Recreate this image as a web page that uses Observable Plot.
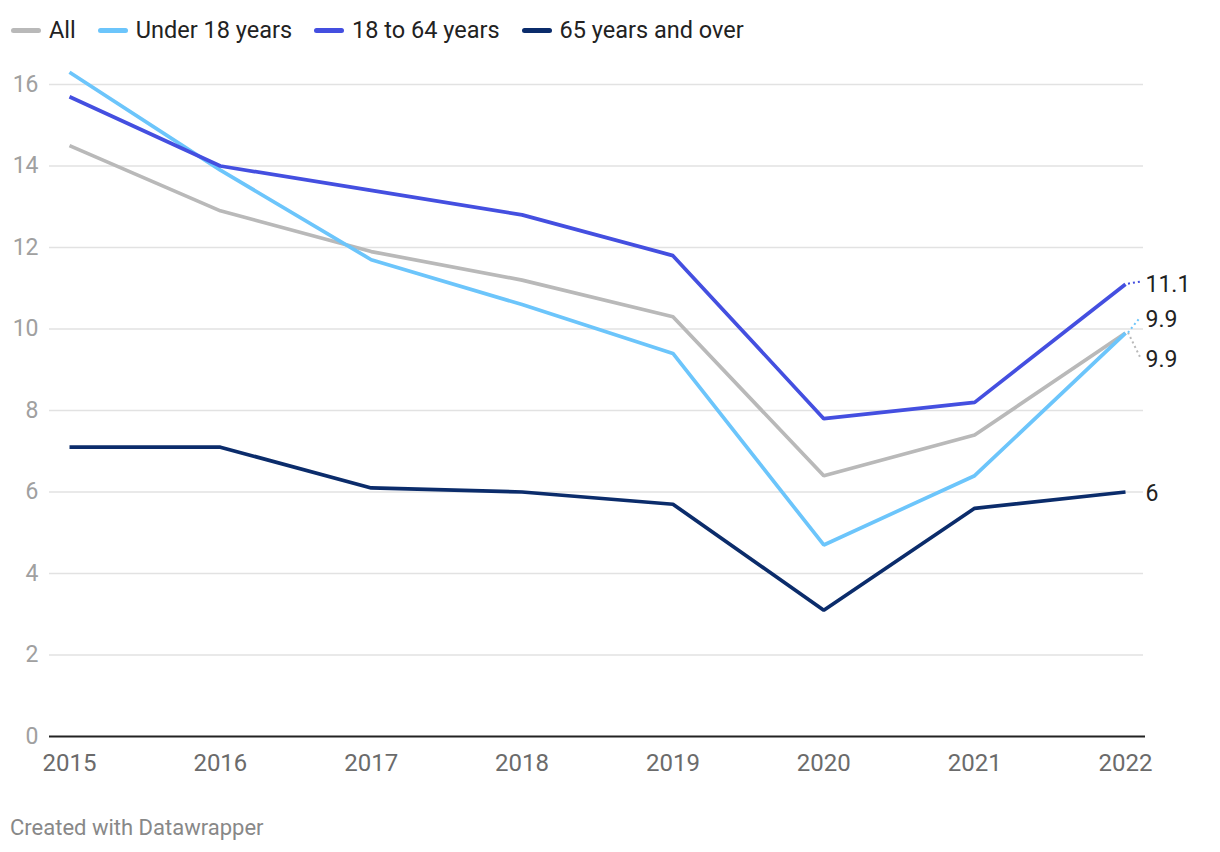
<!DOCTYPE html>
<html>
<head>
<meta charset="utf-8">
<script src="https://cdn.jsdelivr.net/npm/d3@7"></script>
<script src="https://cdn.jsdelivr.net/npm/@observablehq/plot@0.6"></script>
<style>
  body { margin: 0; background: #fff; font-family: Roboto, "Noto Sans", sans-serif; }
  #legend { height: 50px; display: flex; align-items: center; padding-left: 11px; padding-top: 10px; box-sizing: border-box; font-size: 23.5px; color: #222; }
  .item { display: flex; align-items: center; margin-right: 22px; }
  .sw { width: 30px; height: 5px; border-radius: 2.5px; margin-right: 8px; }
  #footer { position: absolute; left: 10px; top: 815px; font-size: 22px; color: #888; }
</style>
</head>
<body>
<div id="legend"></div>
<div id="chart"></div>
<div id="footer">Created with Datawrapper</div>
<script>
const years = [2015, 2016, 2017, 2018, 2019, 2020, 2021, 2022];
const seriesNames = ["All", "Under 18 years", "18 to 64 years", "65 years and over"];
const colors = ["#b9b9b9", "#6cc5fb", "#444fe0", "#0b2c6b"];
const allValues = [14.5, 12.9, 11.9, 11.2, 10.3, 6.4, 7.4, 9.9];
const under18Values = [16.3, 13.9, 11.7, 10.6, 9.4, 4.7, 6.4, 9.9];
const age18to64Values = [15.7, 14.0, 13.4, 12.8, 11.8, 7.8, 8.2, 11.1];
const age65Values = [7.1, 7.1, 6.1, 6.0, 5.7, 3.1, 5.6, 6.0];
const yTicks = [0, 2, 4, 6, 8, 10, 12, 14, 16];
// label positions (data units) after dodging overlapping end labels
const labelPos = [9.3, 10.27, 11.15, 6.0];

const valuesBySeries = [allValues, under18Values, age18to64Values, age65Values];
const data = [];
seriesNames.forEach((s, i) => years.forEach((y, j) => data.push({series: s, year: y, value: valuesBySeries[i][j]})));
const ends = seriesNames.map((s, i) => ({series: s, year: years[years.length - 1], value: valuesBySeries[i][years.length - 1], labelY: labelPos[i], color: colors[i]}));

// legend
const legend = document.getElementById("legend");
seriesNames.forEach((s, i) => {
  const it = document.createElement("div");
  it.className = "item";
  it.innerHTML = `<span class="sw" style="background:${colors[i]}"></span><span>${s}</span>`;
  legend.appendChild(it);
});

const connectors = (index, scales, values, dims) => {
  const g = d3.create("svg:g");
  ends.filter(d => d.labelY !== d.value).forEach(d => {
    const x0 = scales.x(d.year), y0 = scales.y(d.value);
    g.append("line")
      .attr("x1", x0 + 3).attr("y1", y0)
      .attr("x2", x0 + 15).attr("y2", scales.y(d.labelY))
      .attr("stroke", d.color).attr("stroke-width", 2)
      .attr("stroke-dasharray", "2,3");
  });
  return g.node();
};

const chart = Plot.plot({
  width: 1220,
  height: 740,
  marginLeft: 69,
  marginRight: 95,
  marginTop: 34,
  marginBottom: 54,
  style: {fontFamily: "Roboto, sans-serif", fontSize: "20px", background: "#fff"},
  x: {type: "linear", domain: [2015, 2022], ticks: years, tickFormat: "d", label: null},
  y: {domain: [0, 16], ticks: yTicks, label: null},
  color: {domain: seriesNames, range: colors},
  marks: [
    Plot.ruleY(yTicks.filter(t => t > 0), {stroke: "#e2e2e2", strokeWidth: 1.5, insetLeft: -20, insetRight: -18}),
    Plot.ruleY([0], {stroke: "#222", strokeWidth: 2, insetLeft: -20, insetRight: -20}),
    Plot.axisY({ticks: yTicks, tickSize: 0, tickPadding: 31, fill: "#a0a0a0", fontSize: 23, label: null, textAnchor: "end"}),
    Plot.axisX({ticks: years, tickFormat: "d", tickSize: 0, tickPadding: 17, fill: "#6b6b6b", fontSize: 24, label: null}),
    Plot.line(data, {x: "year", y: "value", z: "series", stroke: "series", strokeWidth: 3.7, strokeLinejoin: "miter", strokeLinecap: "butt"}),
    connectors,
    Plot.text(ends, {x: "year", y: "labelY", text: d => String(d.value), dx: 20, textAnchor: "start", fill: "#222", fontSize: 23, dy: 2})
  ]
});
document.getElementById("chart").appendChild(chart);
</script>
</body>
</html>
